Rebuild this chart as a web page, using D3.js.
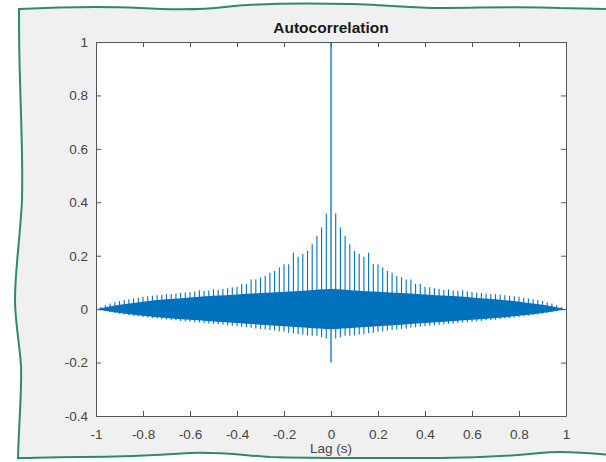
<!DOCTYPE html>
<html>
<head>
<meta charset="utf-8">
<script src="https://cdn.jsdelivr.net/npm/d3@7/dist/d3.min.js"></script>
<style>
  html, body { margin: 0; padding: 0; background: #fff; }
  svg { display: block; }
  text { font-family: "Liberation Sans", Arial, sans-serif; }
</style>
</head>
<body>
<script>
// lag spacing of the periodic peaks (s)
let period = 0.02;

// peak heights at lag = k * period, k = 1..49 (symmetric about 0)
let peakHeights = [0.358, 0.306, 0.275, 0.243, 0.218, 0.206, 0.196, 0.211, 0.168, 0.168,
                   0.156, 0.143, 0.136, 0.124, 0.119, 0.111, 0.111, 0.094, 0.094, 0.084,
                   0.082, 0.078, 0.075, 0.072, 0.074, 0.070, 0.068, 0.071, 0.066, 0.064,
                   0.062, 0.060, 0.059, 0.057, 0.056, 0.054, 0.052, 0.050, 0.048, 0.046,
                   0.043, 0.040, 0.037, 0.034, 0.030, 0.026, 0.021, 0.015, 0.008];

// lower tips at the same lags
let troughs = [-0.110, -0.105, -0.100, -0.100, -0.098, -0.095, -0.093, -0.090, -0.088, -0.085,
               -0.083, -0.080, -0.078, -0.076, -0.074, -0.072, -0.070, -0.068, -0.066, -0.064,
               -0.062, -0.060, -0.058, -0.057, -0.055, -0.054, -0.052, -0.050, -0.049, -0.047,
               -0.046, -0.044, -0.042, -0.041, -0.039, -0.037, -0.035, -0.033, -0.031, -0.029,
               -0.027, -0.025, -0.022, -0.020, -0.017, -0.014, -0.011, -0.008, -0.004];

// envelope of the dense band (one side, mirrored)
let envLags  = [0, 0.1, 0.2, 0.3, 0.4, 0.5, 0.6, 0.7, 0.8, 0.9, 1.0];
let envUpper = [0.075, 0.070, 0.065, 0.060, 0.055, 0.050, 0.044, 0.037, 0.028, 0.016, 0];
let envLower = [-0.075, -0.070, -0.064, -0.058, -0.052, -0.046, -0.040, -0.033, -0.025, -0.014, 0];

// zero-lag spike
let zeroSpike = {lag: 0, top: 1, bottom: -0.2};

let xTicks = [-1, -0.8, -0.6, -0.4, -0.2, 0, 0.2, 0.4, 0.6, 0.8, 1];
let yTicks = [-0.4, -0.2, 0, 0.2, 0.4, 0.6, 0.8, 1];

let W = 606, H = 462;
let blue = "#0072bd";

let svg = d3.select("body").append("svg").attr("width", W).attr("height", H);

svg.append("rect").attr("width", W).attr("height", H).attr("fill", "#fff");

/* wavy torn-paper frame */
let frame = "M19,9 C60,7 100,6 140,8 C175,10 200,10 225,7 C250,4 300,3 350,4 C390,5 410,8 440,8 C480,8 520,6 560,8 L610,9 " +
            "L610,455 C580,452 560,451 540,453 C510,456 480,458 440,458 C410,458 390,458 360,458 C330,458 300,458 270,457 " +
            "C240,455 220,452 190,453 C160,455 120,457 80,457 C50,457 30,458 18,458 " +
            "C19,420 22,390 21,365 C19,340 15,320 15,300 C15,270 20,240 22,200 C23,160 21,120 20,80 C19,50 19,30 19,9 Z";
svg.append("path").attr("d", frame).attr("fill", "#f0f0f0");

let x = d3.scaleLinear().domain([-1, 1]).range([96, 566]);
let y = d3.scaleLinear().domain([-0.4, 1]).range([416, 42]);

svg.append("rect")
    .attr("x", x(-1)).attr("y", y(1))
    .attr("width", x(1) - x(-1)).attr("height", y(-0.4) - y(1))
    .attr("fill", "#fff");

let plot = svg.append("g");

// dense band as an area (both sides)
let envPts = envLags.map((l, i) => ({lag: l, hi: envUpper[i], lo: envLower[i]}));
let envAll = envPts.slice(1).reverse().map(d => ({lag: -d.lag, hi: d.hi, lo: d.lo})).concat(envPts);
let area = d3.area()
    .x(d => x(d.lag))
    .y0(d => y(d.lo))
    .y1(d => y(d.hi))
    .curve(d3.curveMonotoneX);
plot.append("path").attr("d", area(envAll)).attr("fill", blue);

// periodic peaks and troughs
let peaks = [];
peakHeights.forEach((h, i) => {
    let lag = (i + 1) * period;
    peaks.push({lag: lag, top: h, bottom: troughs[i]});
    peaks.push({lag: -lag, top: h, bottom: troughs[i]});
});
plot.selectAll("line.peak")
    .data(peaks)
    .enter().append("line")
        .attr("class", "peak")
        .attr("x1", d => x(d.lag)).attr("x2", d => x(d.lag))
        .attr("y1", d => y(d.top)).attr("y2", d => y(d.bottom))
        .attr("stroke", blue)
        .attr("stroke-width", 1.1);

plot.append("line")
    .attr("x1", x(zeroSpike.lag)).attr("x2", x(zeroSpike.lag))
    .attr("y1", y(zeroSpike.top)).attr("y2", y(zeroSpike.bottom))
    .attr("stroke", blue)
    .attr("stroke-width", 1.3);

/* axes, MATLAB style: ticks inside on all four sides */
let axisColor = "#555";
let tickFont = "13.5px";
let fmt = d => String(d);

let gx = svg.append("g").attr("transform", `translate(0,${y(-0.4)})`)
    .call(d3.axisBottom(x).tickValues(xTicks).tickFormat(fmt).tickSizeInner(-5).tickSizeOuter(0).tickPadding(13));
let gxTop = svg.append("g").attr("transform", `translate(0,${y(1)})`)
    .call(d3.axisTop(x).tickValues(xTicks).tickFormat("").tickSizeInner(-5).tickSizeOuter(0));
let gy = svg.append("g").attr("transform", `translate(${x(-1)},0)`)
    .call(d3.axisLeft(y).tickValues(yTicks).tickFormat(fmt).tickSizeInner(-5).tickSizeOuter(0).tickPadding(8));
let gyRight = svg.append("g").attr("transform", `translate(${x(1)},0)`)
    .call(d3.axisRight(y).tickValues(yTicks).tickFormat("").tickSizeInner(-5).tickSizeOuter(0));

[gx, gxTop, gy, gyRight].forEach(g => {
    g.select(".domain").attr("stroke", axisColor);
    g.selectAll(".tick line").attr("stroke", axisColor);
    g.selectAll(".tick text")
        .attr("fill", "#444")
        .style("font-size", tickFont)
        .style("font-family", "'Liberation Sans', Arial, sans-serif");
});

svg.append("text")
    .attr("x", x(0)).attr("y", 33)
    .attr("text-anchor", "middle")
    .attr("fill", "#1a1a1a")
    .style("font-size", "15.5px")
    .style("font-weight", "bold")
    .text("Autocorrelation");

svg.append("text")
    .attr("x", x(0)).attr("y", 453)
    .attr("text-anchor", "middle")
    .attr("fill", "#444")
    .style("font-size", "13.5px")
    .text("Lag (s)");

// white below the bottom frame edge, then the green outline
let bottomCut = "M18,458 C30,458 50,457 80,457 C120,457 160,455 190,453 C220,452 240,455 270,457 C300,458 330,458 360,458 " +
                "C390,458 410,458 440,458 C480,458 510,456 540,453 C560,451 580,452 610,455 L610,470 L0,470 Z";
svg.append("path").attr("d", bottomCut).attr("fill", "#fff");

svg.append("path").attr("d", frame)
    .attr("fill", "none")
    .attr("stroke", "#2f8a6b")
    .attr("stroke-width", 2);
</script>
</body>
</html>
